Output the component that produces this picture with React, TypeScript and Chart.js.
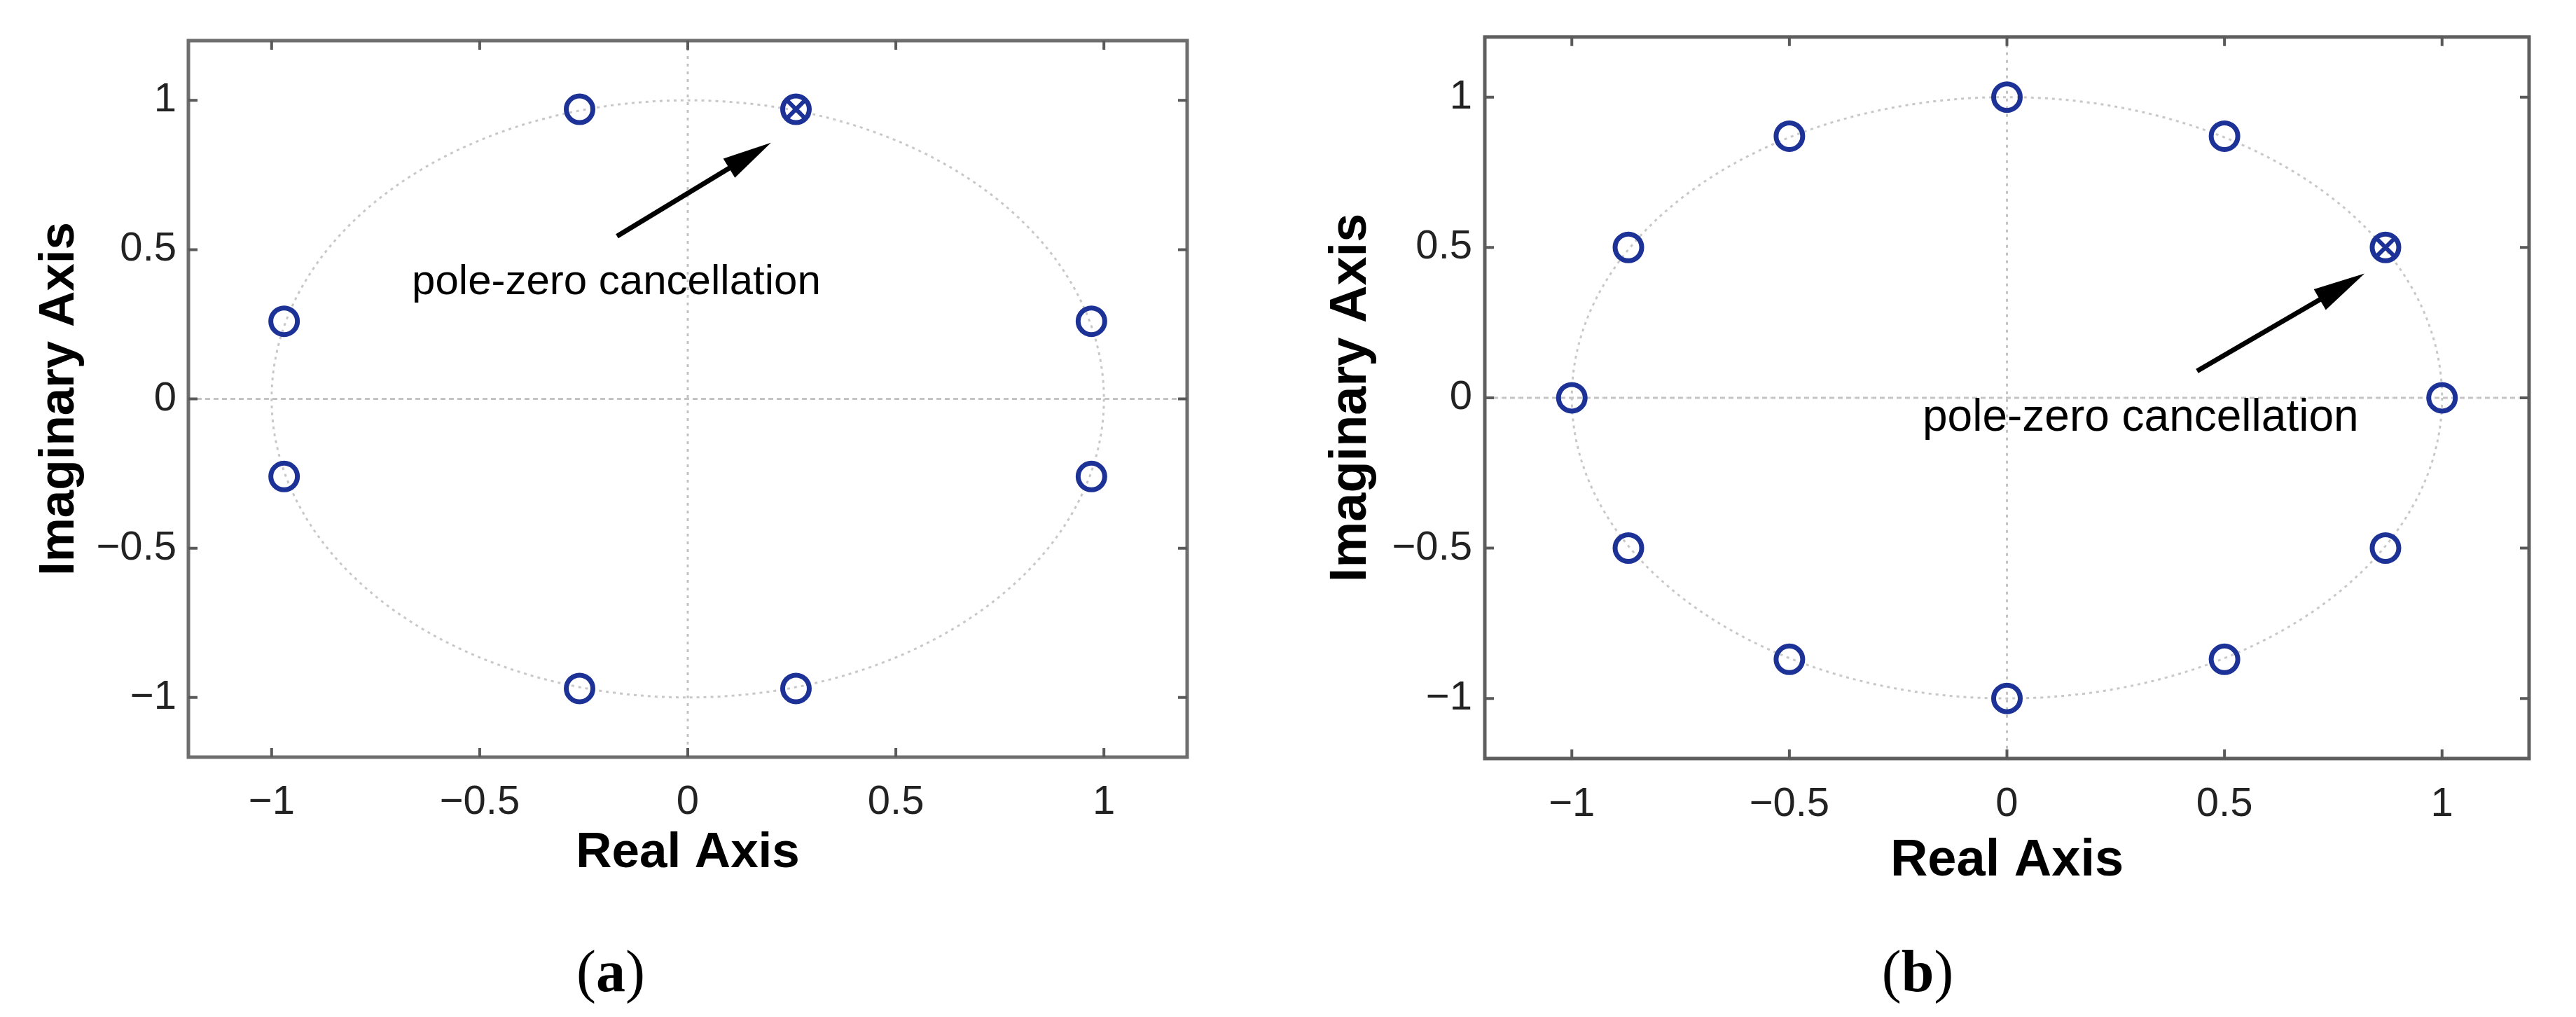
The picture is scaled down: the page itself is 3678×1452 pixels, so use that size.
import React, { useEffect, useRef } from 'react';
import { Chart, registerables } from 'chart.js';

Chart.register(...registerables);

// ---------- data ----------
const tickValues = [-1, -0.5, 0, 0.5, 1];
const axisMin = -1.2;
const axisMax = 1.2;
const unitRadius = 1;

// Panel (a): roots on the unit circle
const rootsA_re = [0.26, -0.26, -0.97, -0.97, -0.26, 0.26, 0.97, 0.97];
const rootsA_im = [0.97, 0.97, 0.26, -0.26, -0.97, -0.97, -0.26, 0.26];
const cancelA_re = [0.26];
const cancelA_im = [0.97];

// Panel (b)
const rootsB_re = [1, 0.87, 0.5, 0, -0.5, -0.87, -1, -0.87, -0.5, 0, 0.5, 0.87];
const rootsB_im = [0, 0.5, 0.87, 1, 0.87, 0.5, 0, -0.5, -0.87, -1, -0.87, -0.5];
const cancelB_re = [0.87];
const cancelB_im = [0.5];

const annotationText = 'pole-zero cancellation';
const xTitle = 'Real Axis';
const yTitle = 'Imaginary Axis';

// ---------- styling ----------
const BLUE = '#1c3296';
const SANS = '"Liberation Sans", Arial, Helvetica, sans-serif';
const SERIF = '"Liberation Serif", "Times New Roman", serif';

const fmt = (v: number) => {
  const s = String(Math.abs(v));
  return v < 0 ? '\u2212' + s : s;
};

interface Panel {
  re: number[];
  im: number[];
  cRe: number[];
  cIm: number[];
  left: number;
  width: number;
  height: number;
  area: { left: number; top: number; right: number; bottom: number };
  xAxisBottom: number;
  tickFont: number;
  titleFont: number;
  yTitlePad: number;
  xTitlePad: number;
  xTickPad: number;
  yTickPad: number;
  annFont: number;
  annAt: [number, number];
  arrowFrom: [number, number];
  arrowTo: [number, number];
  headLen: number;
  headW: number;
  caption: string;
  captionX: number;
  captionBase: number;
  boxColor: string;
}

const panels: Panel[] = [
  {
    re: rootsA_re, im: rootsA_im, cRe: cancelA_re, cIm: cancelA_im,
    left: 0, width: 1790, height: 1452,
    area: { left: 269, top: 58, right: 1695, bottom: 1081 },
    xAxisBottom: 1300,
    tickFont: 58, titleFont: 71,
    yTitlePad: 43, xTitlePad: 39, xTickPad: 30, yTickPad: 17,
    annFont: 60, annAt: [-0.663, 0.351],
    arrowFrom: [-0.17, 0.545], arrowTo: [0.2, 0.858],
    headLen: 70, headW: 32,
    caption: 'a', captionX: 872, captionBase: 1415,
    boxColor: '#6e6e6e',
  },
  {
    re: rootsB_re, im: rootsB_im, cRe: cancelB_re, cIm: cancelB_im,
    left: 1800, width: 1878, height: 1452,
    area: { left: 320, top: 46, right: 1811, bottom: 1083 },
    xAxisBottom: 1300,
    tickFont: 58, titleFont: 74,
    yTitlePad: 85, xTitlePad: 26, xTickPad: 31, yTickPad: 18,
    annFont: 64, annAt: [-0.194, -0.11],
    arrowFrom: [0.437, 0.089], arrowTo: [0.822, 0.413],
    headLen: 74, headW: 34,
    caption: 'b', captionX: 938, captionBase: 1415,
    boxColor: '#5e5e5e',
  },
];

function makePlugin(p: Panel) {
  return {
    id: 'pzPanel',
    beforeDatasetsDraw(chart: any) {
      const { ctx, chartArea: a, scales } = chart;
      const x = scales.x;
      const y = scales.y;
      ctx.save();
      ctx.beginPath();
      ctx.rect(a.left, a.top, a.right - a.left, a.bottom - a.top);
      ctx.clip();
      // zero lines
      ctx.strokeStyle = '#c4c4c4';
      ctx.lineWidth = 3;
      ctx.setLineDash([7, 5]);
      const y0 = y.getPixelForValue(0);
      const x0 = x.getPixelForValue(0);
      ctx.beginPath();
      ctx.moveTo(a.left, y0);
      ctx.lineTo(a.right, y0);
      ctx.stroke();
      ctx.setLineDash([4, 7]);
      ctx.beginPath();
      ctx.moveTo(x0, a.top);
      ctx.lineTo(x0, a.bottom);
      ctx.stroke();
      // unit circle
      const rx = x.getPixelForValue(unitRadius) - x0;
      const ry = y0 - y.getPixelForValue(unitRadius);
      ctx.strokeStyle = '#c8c8c8';
      ctx.lineWidth = 3;
      ctx.setLineDash([4, 6]);
      ctx.beginPath();
      ctx.ellipse(x0, y0, rx, ry, 0, 0, Math.PI * 2);
      ctx.stroke();
      ctx.restore();
    },
    afterDraw(chart: any) {
      const { ctx, chartArea: a, scales } = chart;
      const x = scales.x;
      const y = scales.y;
      ctx.save();
      // box
      ctx.strokeStyle = p.boxColor;
      ctx.lineWidth = 5;
      ctx.setLineDash([]);
      ctx.strokeRect(a.left, a.top, a.right - a.left, a.bottom - a.top);
      // inside ticks
      ctx.strokeStyle = '#5a5a5a';
      ctx.lineWidth = 4;
      const tl = 13;
      tickValues.forEach((v) => {
        const px = x.getPixelForValue(v);
        const py = y.getPixelForValue(v);
        ctx.beginPath();
        ctx.moveTo(px, a.bottom); ctx.lineTo(px, a.bottom - tl);
        ctx.moveTo(px, a.top); ctx.lineTo(px, a.top + tl);
        ctx.moveTo(a.left, py); ctx.lineTo(a.left + tl, py);
        ctx.moveTo(a.right, py); ctx.lineTo(a.right - tl, py);
        ctx.stroke();
      });
      // arrow
      const tx = x.getPixelForValue(p.arrowFrom[0]);
      const ty = y.getPixelForValue(p.arrowFrom[1]);
      const hx = x.getPixelForValue(p.arrowTo[0]);
      const hy = y.getPixelForValue(p.arrowTo[1]);
      const dx = hx - tx, dy = hy - ty;
      const L = Math.hypot(dx, dy);
      const ux = dx / L, uy = dy / L;
      const nx = -uy, ny = ux;
      const bx = hx - ux * p.headLen, by = hy - uy * p.headLen;
      ctx.strokeStyle = '#000';
      ctx.fillStyle = '#000';
      ctx.lineWidth = 7;
      ctx.lineCap = 'butt';
      ctx.beginPath();
      ctx.moveTo(tx, ty);
      ctx.lineTo(bx + ux * 10, by + uy * 10);
      ctx.stroke();
      ctx.beginPath();
      ctx.moveTo(hx, hy);
      ctx.lineTo(bx + nx * p.headW / 2, by + ny * p.headW / 2);
      ctx.lineTo(bx - nx * p.headW / 2, by - ny * p.headW / 2);
      ctx.closePath();
      ctx.fill();
      // annotation text
      ctx.font = `${p.annFont}px ${SANS}`;
      ctx.textAlign = 'left';
      ctx.textBaseline = 'alphabetic';
      ctx.fillText(annotationText, x.getPixelForValue(p.annAt[0]), y.getPixelForValue(p.annAt[1]));
      // caption (a)/(b)
      const fs = 84;
      const fN = `${fs}px ${SERIF}`;
      const fB = `bold ${fs}px ${SERIF}`;
      ctx.font = fN;
      const wP = ctx.measureText('(').width;
      const wP2 = ctx.measureText(')').width;
      ctx.font = fB;
      const wL = ctx.measureText(p.caption).width;
      const total = wP + wL + wP2;
      let cx = p.captionX - total / 2;
      ctx.font = fN;
      ctx.fillText('(', cx, p.captionBase);
      cx += wP;
      ctx.font = fB;
      ctx.fillText(p.caption, cx, p.captionBase);
      cx += wL;
      ctx.font = fN;
      ctx.fillText(')', cx, p.captionBase);
      ctx.restore();
    },
  };
}

function PzChart({ p }: { p: Panel }) {
  const ref = useRef<HTMLCanvasElement | null>(null);
  useEffect(() => {
    const canvas = ref.current;
    if (!canvas) return;
    const rootPts = p.re.map((v, i) => ({ x: v, y: p.im[i] }));
    const cancelPts = p.cRe.map((v, i) => ({ x: v, y: p.cIm[i] }));
    const chart = new Chart(canvas, {
      type: 'scatter',
      data: {
        datasets: [
          {
            data: rootPts,
            pointStyle: 'circle',
            pointRadius: 19,
            pointBorderWidth: 7,
            pointBorderColor: BLUE,
            pointBackgroundColor: 'rgba(0,0,0,0)',
            showLine: false,
          },
          {
            data: cancelPts,
            pointStyle: 'crossRot',
            pointRadius: 19,
            pointBorderWidth: 6,
            pointBorderColor: BLUE,
            pointBackgroundColor: BLUE,
            showLine: false,
          },
        ],
      } as any,
      options: {
        responsive: false,
        animation: false,
        events: [],
        layout: {
          padding: {
            left: 0,
            top: p.area.top,
            right: p.width - p.area.right,
            bottom: p.height - p.xAxisBottom,
          },
        },
        plugins: { legend: { display: false }, tooltip: { enabled: false } },
        scales: {
          x: {
            type: 'linear',
            position: 'bottom',
            min: axisMin,
            max: axisMax,
            afterBuildTicks: (s: any) => {
              s.ticks = tickValues.map((v) => ({ value: v }));
            },
            afterFit: (s: any) => {
              s.height = p.xAxisBottom - p.area.bottom;
            },
            grid: { display: false, drawTicks: false },
            border: { display: false },
            ticks: {
              autoSkip: false,
              maxRotation: 0,
              padding: p.xTickPad,
              color: '#222',
              font: { family: SANS, size: p.tickFont },
              callback: (v: any) => fmt(Number(v)),
            },
            title: {
              display: true,
              text: xTitle,
              color: '#000',
              font: { family: SANS, size: p.titleFont, weight: 'bold' },
              padding: { top: 0, bottom: p.xTitlePad },
            },
          },
          y: {
            type: 'linear',
            position: 'left',
            min: axisMin,
            max: axisMax,
            afterBuildTicks: (s: any) => {
              s.ticks = tickValues.map((v) => ({ value: v }));
            },
            afterFit: (s: any) => {
              s.width = p.area.left;
            },
            grid: { display: false, drawTicks: false },
            border: { display: false },
            ticks: {
              autoSkip: false,
              padding: p.yTickPad,
              color: '#222',
              font: { family: SANS, size: p.tickFont },
              callback: (v: any) => fmt(Number(v)),
            },
            title: {
              display: true,
              text: yTitle,
              color: '#000',
              font: { family: SANS, size: p.titleFont, weight: 'bold' },
              padding: { top: p.yTitlePad, bottom: 0 },
            },
          },
        },
      } as any,
      plugins: [makePlugin(p)],
    });
    return () => chart.destroy();
  }, [p]);
  return (
    <canvas
      ref={ref}
      width={p.width}
      height={p.height}
      style={{ position: 'absolute', left: p.left, top: 0, width: p.width, height: p.height }}
    />
  );
}

export default function App() {
  return (
    <div
      style={{
        position: 'fixed',
        left: 0,
        top: 0,
        width: 3678,
        height: 1452,
        background: '#ffffff',
        overflow: 'hidden',
      }}
    >
      {panels.map((p, i) => (
        <PzChart key={i} p={p} />
      ))}
    </div>
  );
}
